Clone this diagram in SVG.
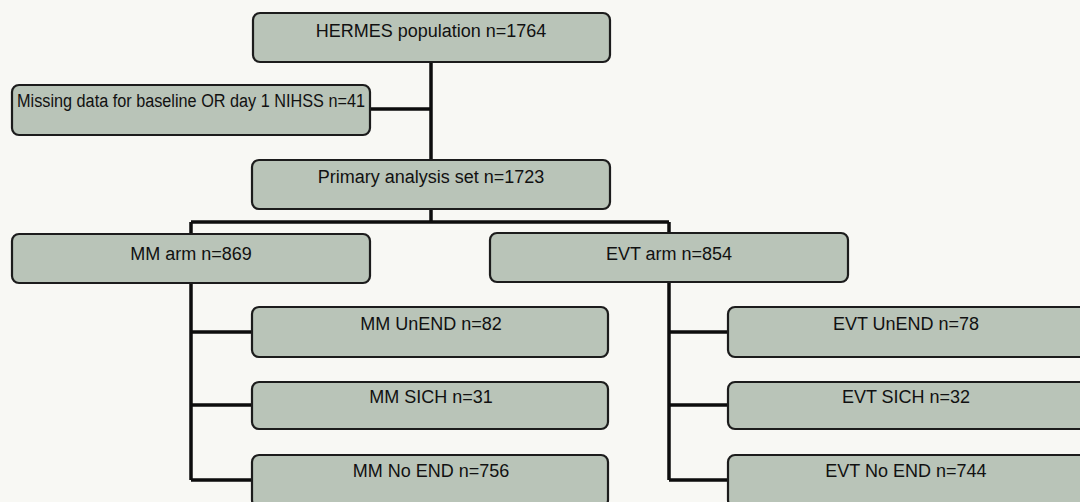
<svg xmlns="http://www.w3.org/2000/svg" width="1080" height="502" viewBox="0 0 1080 502">
<style>
.box{fill:#b9c4b8;stroke:#1c1c1c;stroke-width:2.2}
.t{font-family:"Liberation Sans",Arial,sans-serif;font-size:18px;fill:#111;text-anchor:middle}
.c{fill:none;stroke:#0d0d0d;stroke-width:3.5}
</style>
<rect x="0" y="0" width="1080" height="502" fill="#f8f8f4"/>
<g id="connectors">
<path class="c" d="M431,62V160M370,109H431M431,209V222M191,222H669M191,222V234M669,222V233"/>
<path class="c" d="M191,283V480M191,332H252M191,405H252M191,480H252"/>
<path class="c" d="M669,282V480M669,332H728M669,405H728M669,480H728"/>
</g>
<g id="hermes"><rect class="box" x="253" y="13" width="357" height="49" rx="7"/><text class="t" x="431" y="37">HERMES population n=1764</text></g>
<g id="missing"><rect class="box" x="12" y="85" width="358" height="50" rx="7"/><text class="t" x="191" y="107" textLength="348" lengthAdjust="spacingAndGlyphs">Missing data for baseline OR day 1 NIHSS n=41</text></g>
<g id="primary"><rect class="box" x="252" y="160" width="358" height="49" rx="7"/><text class="t" x="431" y="183">Primary analysis set n=1723</text></g>
<g id="mm-arm"><rect class="box" x="12" y="234" width="358" height="49" rx="7"/><text class="t" x="191" y="260">MM arm n=869</text></g>
<g id="evt-arm"><rect class="box" x="490" y="233" width="358" height="49" rx="7"/><text class="t" x="669" y="260">EVT arm n=854</text></g>
<g id="mm-unend"><rect class="box" x="252" y="307" width="356" height="50" rx="7"/><text class="t" x="431" y="330">MM UnEND n=82</text></g>
<g id="mm-sich"><rect class="box" x="252" y="382" width="356" height="47" rx="7"/><text class="t" x="431" y="403">MM SICH n=31</text></g>
<g id="mm-noend"><rect class="box" x="252" y="455" width="356" height="52" rx="7"/><text class="t" x="431" y="477">MM No END n=756</text></g>
<g id="evt-unend"><rect class="box" x="728" y="307" width="362" height="50" rx="7"/><text class="t" x="906" y="330">EVT UnEND n=78</text></g>
<g id="evt-sich"><rect class="box" x="728" y="382" width="362" height="47" rx="7"/><text class="t" x="906" y="403">EVT SICH n=32</text></g>
<g id="evt-noend"><rect class="box" x="728" y="455" width="362" height="52" rx="7"/><text class="t" x="906" y="477">EVT No END n=744</text></g>
</svg>
